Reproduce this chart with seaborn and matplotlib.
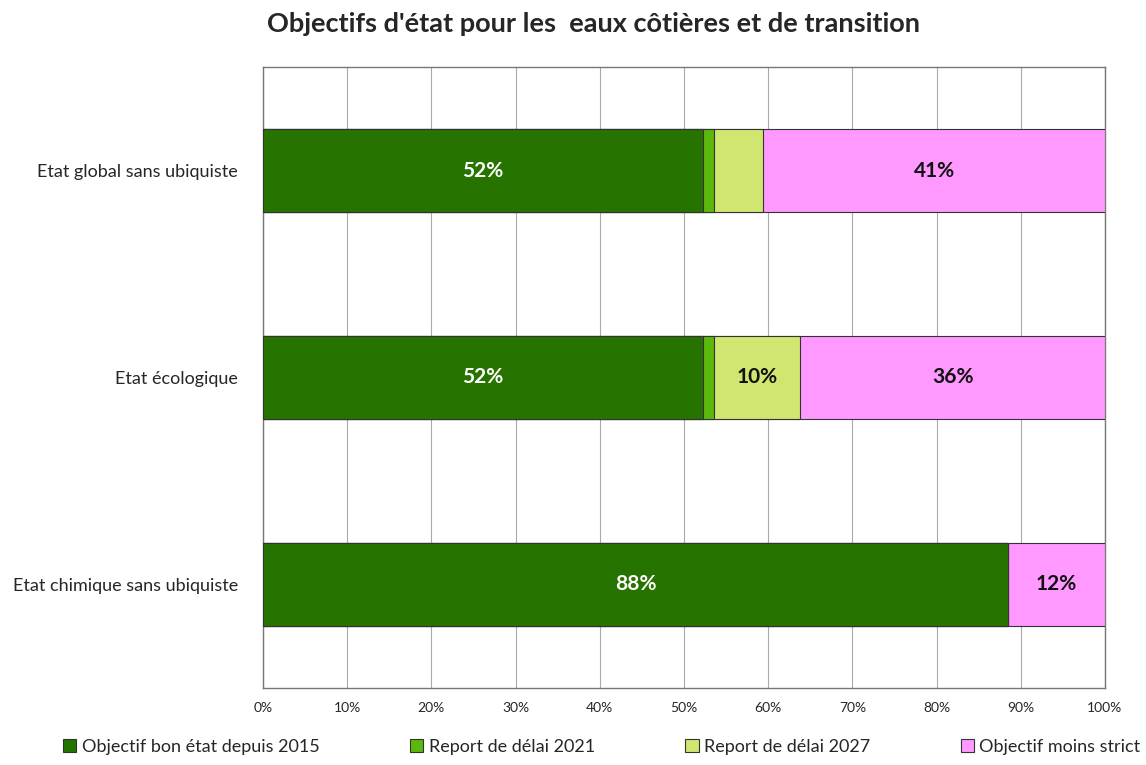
import numpy as np
import pandas as pd
import matplotlib
matplotlib.use("Agg")
import matplotlib.pyplot as plt
import seaborn as sns
from matplotlib.patches import Patch

# data (in %)
categories = ["Etat global sans ubiquiste", "Etat écologique", "Etat chimique sans ubiquiste"]
series = ["Objectif bon état depuis 2015", "Report de délai 2021",
          "Report de délai 2027", "Objectif moins strict"]
bon_etat_2015 = [52.2, 52.2, 88.5]
report_2021 = [1.4, 1.4, 0.0]
report_2027 = [5.8, 10.2, 0.0]
moins_strict = [40.6, 36.2, 11.5]
colors = ["#267300", "#5cb80c", "#cfe670", "#ff99ff"]

sns.set_style("white")
plt.rcParams['font.family'] = ['Lato', 'DejaVu Sans']

values = np.array([bon_etat_2015, report_2021, report_2027, moins_strict])
cumul = values.cumsum(axis=0)

fig = plt.figure(figsize=(11.46, 7.65), dpi=100)
ax = fig.add_axes([0.2295, 0.1007, 0.7347, 0.8117])

# stacked bars: draw the cumulative totals from the right-most series backward
for i in range(len(series) - 1, -1, -1):
    df = pd.DataFrame({"cat": categories, "val": cumul[i]})
    sns.barplot(data=df, x="val", y="cat", order=categories, color=colors[i],
                saturation=1, width=0.405, edgecolor="#333333", linewidth=0.8,
                ax=ax, zorder=3)

# value labels
for i in range(len(series)):
    for j in range(len(categories)):
        v = values[i, j]
        if v >= 8:
            xc = cumul[i, j] - v / 2
            ax.text(xc, j, f"{round(v):.0f}%", ha="center", va="center",
                    fontsize=15, fontweight="bold",
                    color="white" if i == 0 else "#111111", zorder=5)

ax.set_xlim(0, 100)
ax.set_ylim(2.5, -0.5)
ax.set_xticks(np.arange(0, 101, 10))
ax.set_xticklabels([f"{t}%" for t in range(0, 101, 10)], fontsize=10)
ax.set_yticks(range(len(categories)))
ax.set_yticklabels(categories, fontsize=13)
ax.set_yticks([-0.5, 0.5, 1.5, 2.5], minor=True)
ax.tick_params(axis="y", which="major", length=0, pad=18)
ax.tick_params(axis="y", which="minor", length=7, color="#888888", direction="out")
ax.tick_params(axis="x", length=6, color="#888888", direction="out", pad=4)
ax.set_xlabel("")
ax.set_ylabel("")
ax.grid(axis="x", color="#aaaaaa", linewidth=0.8, zorder=0)
ax.set_axisbelow(True)
for s in ax.spines.values():
    s.set_color("#777777")
    s.set_linewidth(1.0)
    s.set_visible(True)

fig.suptitle("Objectifs d'état pour les  eaux côtières et de transition",
             x=0.518, y=0.984, fontsize=19.5, fontweight="bold")

handles = [Patch(facecolor=c, edgecolor="#333333", linewidth=0.8) for c in colors]
fig.legend(handles, series, loc="lower center", ncol=4, frameon=False,
           bbox_to_anchor=(0.525, -0.008), fontsize=13, handlelength=0.75,
           handleheight=0.75, handletextpad=0.3, columnspacing=5.0)

fig.savefig("out.png", dpi=100)
